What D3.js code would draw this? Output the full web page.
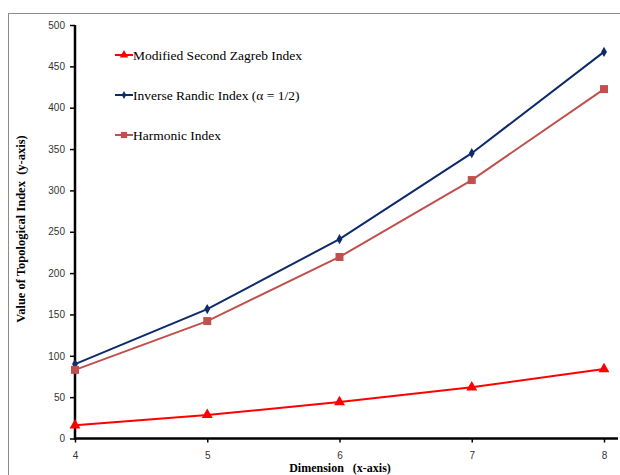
<!DOCTYPE html>
<html>
  <head>
    <title>Topological Indices</title>
    <script src="https://cdn.jsdelivr.net/npm/d3@7"></script>
    <style type="text/css">

body {
  margin: 0;
  background: #fff;
}

.tick text {
  font: 10px "Liberation Sans", sans-serif;
  fill: #333;
}

    </style>
  </head>
  <body>
    <script type="text/javascript">

var dims = [4, 5, 6, 7, 8],
    zagreb = [16, 28.5, 44, 62, 84],
    randic = [90, 156.5, 241, 345, 467.5],
    harmonic = [83, 142, 219.5, 312.5, 422.5],
    yTicks = [0, 50, 100, 150, 200, 250, 300, 350, 400, 450, 500];

var series = [
  {name: "Modified Second Zagreb Index", values: zagreb, color: "#ff0000", mark: "triangle"},
  {name: "Inverse Randic Index (\u03b1 = 1/2)", values: randic, color: "#0d2a6b", mark: "diamond"},
  {name: "Harmonic Index", values: harmonic, color: "#c0504d", mark: "square"}
];

var w = 620,
    h = 475;

var x = d3.scaleLinear().domain([4, 8]).range([75, 604]),
    y = d3.scaleLinear().domain([0, 500]).range([438.5, 25]);

var svg = d3.select("body")
  .append("svg")
    .attr("width", w)
    .attr("height", h);

// outer frame (right and bottom fall outside the picture)
svg.append("rect")
    .attr("x", 8.5)
    .attr("y", 13.5)
    .attr("width", 640)
    .attr("height", 500)
    .attr("fill", "none")
    .attr("stroke", "#8c8c8c")
    .attr("stroke-width", 1);

var xAxis = svg.append("g")
    .attr("transform", "translate(0," + y(0) + ")")
    .call(d3.axisBottom(x).tickValues(dims).tickFormat(d3.format("d")).tickSize(4).tickPadding(9));

var yAxis = svg.append("g")
    .attr("transform", "translate(" + x(4) + ",0)")
    .call(d3.axisLeft(y).tickValues(yTicks).tickSize(5).tickPadding(5));

xAxis.select(".domain").remove();
yAxis.select(".domain").remove();
xAxis.selectAll(".tick line").attr("stroke", "#000").attr("stroke-width", 1.5);
yAxis.selectAll(".tick line").attr("stroke", "#000").attr("stroke-width", 1.5);

svg.append("line")
    .attr("x1", x(4) - 1).attr("x2", 618)
    .attr("y1", y(0)).attr("y2", y(0))
    .attr("stroke", "#000").attr("stroke-width", 2.5);

svg.append("line")
    .attr("x1", x(4)).attr("x2", x(4))
    .attr("y1", y(500)).attr("y2", y(0) + 1)
    .attr("stroke", "#000").attr("stroke-width", 2.5);

var line = d3.line()
    .x(function(d, i) { return x(dims[i]); })
    .y(function(d) { return y(d); });

function marker(g, type, color, size) {
  var sym = type == "triangle" ? d3.symbolTriangle : type == "diamond" ? d3.symbolDiamond : d3.symbolSquare;
  g.append("path")
      .attr("d", d3.symbol().type(sym).size(size)())
      .attr("fill", color);
}

var sizes = {triangle: 52, diamond: 30, square: 64};

series.forEach(function(s) {
  svg.append("path")
      .datum(s.values)
      .attr("fill", "none")
      .attr("stroke", s.color)
      .attr("stroke-width", 2)
      .attr("d", line);

  svg.selectAll(null)
      .data(s.values)
    .enter().append("g")
      .attr("transform", function(d, i) { return "translate(" + x(dims[i]) + "," + y(d) + ")"; })
      .each(function() { marker(d3.select(this), s.mark, s.color, sizes[s.mark]); });
});

// legend
var legend = svg.selectAll("g.legend")
    .data(series)
  .enter().append("g")
    .attr("class", "legend")
    .attr("transform", function(d, i) { return "translate(115," + (55 + i * 40) + ")"; });

legend.append("line")
    .attr("x1", 0).attr("x2", 18)
    .attr("stroke", function(d) { return d.color; })
    .attr("stroke-width", 2);

legend.append("g")
    .attr("transform", "translate(9,0)")
    .each(function(d) { marker(d3.select(this), d.mark, d.color, sizes[d.mark] * 0.6); });

legend.append("text")
    .attr("x", 18)
    .attr("dy", ".35em")
    .style("font", "13.5px 'Liberation Serif', serif")
    .attr("fill", "#000")
    .text(function(d) { return d.name; });

// axis titles
svg.append("text")
    .attr("transform", "translate(25,229) rotate(-90)")
    .attr("text-anchor", "middle")
    .style("font", "bold 12.5px 'Liberation Serif', serif")
    .style("white-space", "pre")
    .text("Value of Topological Index  (y-axis)");

svg.append("text")
    .attr("x", 340)
    .attr("y", 472)
    .attr("text-anchor", "middle")
    .style("font", "bold 12px 'Liberation Serif', serif")
    .style("white-space", "pre")
    .text("Dimension   (x-axis)");

    </script>
  </body>
</html>
